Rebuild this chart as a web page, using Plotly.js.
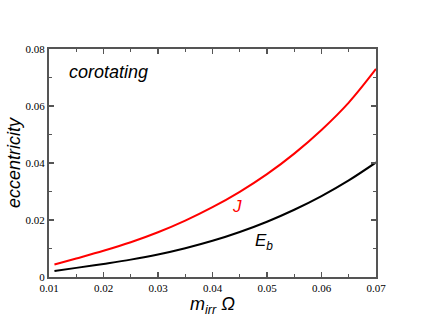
<!DOCTYPE html>
<html>
<head>
<meta charset="utf-8">
<script src="https://cdn.plot.ly/plotly-3.0.1.min.js"></script>
<style>
  html, body { margin: 0; padding: 0; background: #fff; }
  #chart { width: 423px; height: 327px; }
</style>
</head>
<body>
<div id="chart"></div>
<script>
// values
var mOmega = [0.011, 0.015, 0.02, 0.025, 0.03, 0.035, 0.04, 0.045, 0.05, 0.055, 0.06, 0.065, 0.07];
var eccJ  = [0.0044, 0.0065, 0.0092, 0.0122, 0.0157, 0.0198, 0.0245, 0.0299, 0.0361, 0.0433, 0.0516, 0.0612, 0.073];
var eccEb = [0.0021, 0.0032, 0.0046, 0.0061, 0.0079, 0.0101, 0.0127, 0.0158, 0.0194, 0.0236, 0.0284, 0.0339, 0.0402];

var axisCol = '#555';
var tickFont = {family: 'Liberation Serif, Times New Roman, serif', size: 11, color: '#000'};
var titleFont = {family: 'Liberation Sans, Arial, sans-serif', size: 18, color: '#000', style: 'italic'};

var traceJ = {
  x: mOmega, y: eccJ,
  type: 'scatter', mode: 'lines',
  line: {color: '#ff0000', width: 2, shape: 'spline'},
  hoverinfo: 'skip'
};
var traceEb = {
  x: mOmega, y: eccEb,
  type: 'scatter', mode: 'lines',
  line: {color: '#000000', width: 2, shape: 'spline'},
  hoverinfo: 'skip'
};

var layout = {
  width: 423, height: 327,
  margin: {l: 49, r: 47, t: 49, b: 50},
  paper_bgcolor: '#fff', plot_bgcolor: '#fff',
  showlegend: false,
  xaxis: {
    range: [0.01, 0.07], dtick: 0.01, tick0: 0.01,
    showgrid: false, zeroline: false,
    showline: true, linecolor: axisCol, linewidth: 2, mirror: 'allticks',
    ticks: 'inside', ticklen: 5, tickwidth: 1.5, tickcolor: axisCol,
    minor: {dtick: 0.005, ticks: 'inside', ticklen: 3, tickwidth: 1, tickcolor: axisCol, showgrid: false},
    tickfont: tickFont,
    title: {text: 'm<sub>irr</sub> Ω', font: titleFont, standoff: 0}
  },
  yaxis: {
    range: [0, 0.08], dtick: 0.02, tick0: 0,
    showgrid: false, zeroline: false,
    showline: true, linecolor: axisCol, linewidth: 2, mirror: 'allticks',
    ticks: 'inside', ticklen: 5, tickwidth: 1.5, tickcolor: axisCol,
    minor: {dtick: 0.01, ticks: 'inside', ticklen: 3, tickwidth: 1, tickcolor: axisCol, showgrid: false},
    tickfont: tickFont,
    title: {text: 'eccentricity', font: titleFont, standoff: 0}
  },
  annotations: [
    {xref: 'paper', yref: 'paper', x: 0.055, y: 0.9, xanchor: 'left', yanchor: 'middle',
     text: 'corotating', showarrow: false, font: titleFont},
    {xref: 'x', yref: 'y', x: 0.0445, y: 0.0247, text: 'J', showarrow: false,
     font: {family: 'Liberation Sans, Arial, sans-serif', size: 17, color: '#ff0000', style: 'italic'}},
    {xref: 'x', yref: 'y', x: 0.0494, y: 0.0124, text: 'E<sub>b</sub>', showarrow: false,
     font: {family: 'Liberation Sans, Arial, sans-serif', size: 17, color: '#000', style: 'italic'}}
  ]
};

Plotly.newPlot('chart', [traceJ, traceEb], layout, {displayModeBar: false, staticPlot: true});
</script>
</body>
</html>
